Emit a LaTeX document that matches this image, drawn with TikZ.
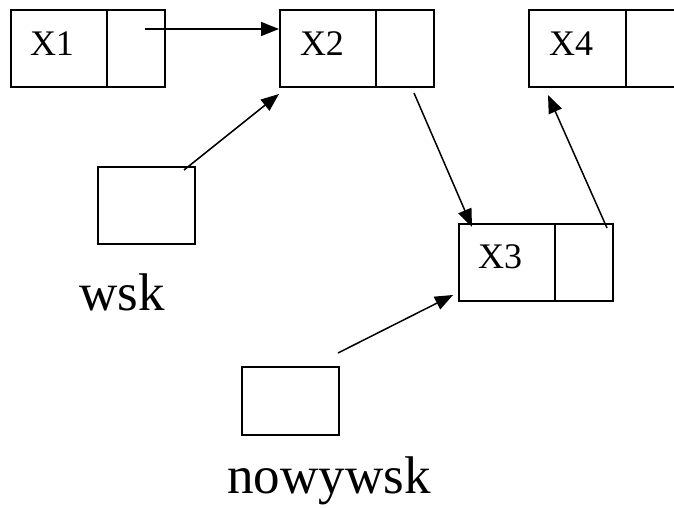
\documentclass[tikz,border=0pt]{standalone}
\usepackage{fontspec}
\setmainfont{Liberation Serif}
\usetikzlibrary{arrows.meta}
\begin{document}
\begin{tikzpicture}[x=1pt,y=-1pt,
  cell/.style={draw,line width=2pt,inner sep=0pt,minimum height=77pt},
  lbl/.style={inner sep=0pt,font=\fontsize{36}{40}\selectfont},
  big/.style={inner sep=0pt,font=\fontsize{53}{60}\selectfont},
  ptr/.style={line width=1.5pt,-{Triangle[length=18pt,width=14pt]}}]
\clip (0,0) rectangle (674,508);
\fill[white] (0,0) rectangle (674,508);
% X1
\node[cell,minimum width=96pt] (x1) at (59,48.5) {};
\node[cell,minimum width=58pt] (x1p) at (136,48.5) {};
\node[lbl] (x1t) at (52,44) {X1};
% X2
\node[cell,minimum width=96pt] (x2) at (328,48.5) {};
\node[cell,minimum width=58pt] (x2p) at (405,48.5) {};
\node[lbl] (x2t) at (322,44) {X2};
% X4
\node[cell,minimum width=97pt] (x4) at (577.5,48.5) {};
\node[cell,minimum width=58pt] (x4p) at (655,48.5) {};
\node[lbl] (x4t) at (571,44) {X4};
% X3
\node[cell,minimum width=96pt] (x3) at (507,262.5) {};
\node[cell,minimum width=58pt] (x3p) at (584,262.5) {};
\node[lbl] (x3t) at (500,257) {X3};
% wsk
\node[cell,minimum width=97pt] (wsk) at (146.5,205.5) {};
\node[big,anchor=base] (wskt) at (122,310) {wsk};
% nowywsk
\node[cell,minimum width=97pt,minimum height=68pt] (nw) at (290.5,401) {};
\node[big,anchor=base] (nwt) at (329,493) {nowywsk};
% arrow endpoints
\coordinate (a1s) at (145,29);
\coordinate (a2s) at (184,170);
\coordinate (a2e) at (279,94);
\coordinate (a3s) at (414,93);
\coordinate (a3e) at (472,227);
\coordinate (a4s) at (607,228);
\coordinate (a4e) at (548,95);
\coordinate (a5s) at (338,353);
\coordinate (a5e) at (453,295);
\draw[ptr] (a1s) -- (a1s -| x2.west);
\draw[ptr] (a2s) -- (a2e);
\draw[ptr] (a3s) -- (a3e);
\draw[ptr] (a4s) -- (a4e);
\draw[ptr] (a5s) -- (a5e);
\end{tikzpicture}
\end{document}
